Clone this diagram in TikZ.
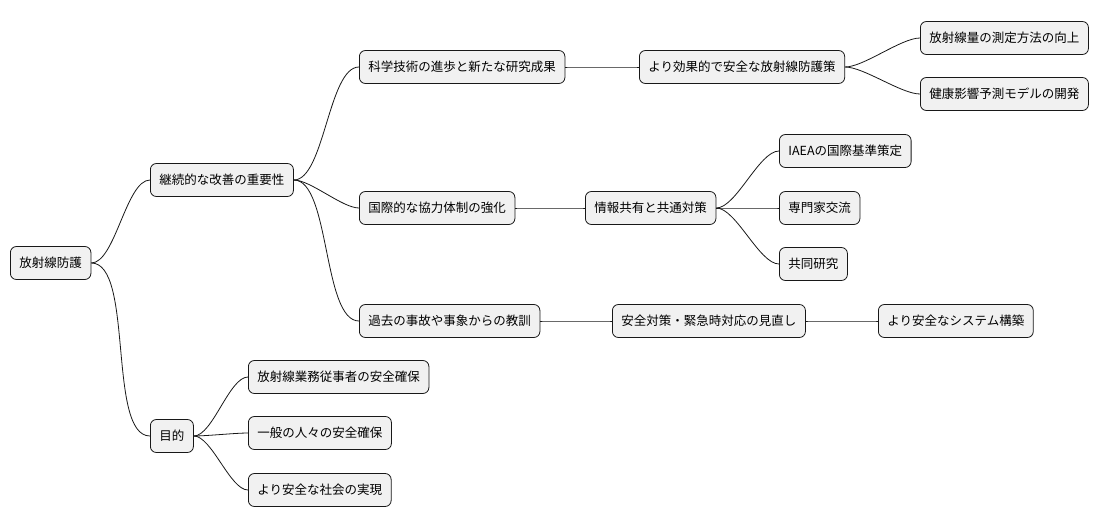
\documentclass[tikz,border=0pt]{standalone}
\usepackage{fontspec}
\setmainfont{Noto Sans CJK JP}
\usetikzlibrary{positioning}
\definecolor{boxfill}{HTML}{F1F1F1}
\definecolor{boxline}{HTML}{181818}
\tikzset{
  topic/.style={draw=boxline, fill=boxfill, rounded corners=6pt, line width=0.8pt,
    anchor=west, minimum height=33pt, inner xsep=9pt,
    font=\fontsize{12.5}{14}\selectfont},
  branch/.style={draw=boxline, line width=0.8pt},
}
\newcommand{\link}[2]{\draw[branch] (#1.east) to[out=0,in=180,looseness=0.6] (#2.west);}
\begin{document}
\begin{tikzpicture}[x=1pt,y=-1pt]
  \useasboundingbox (0,0) rectangle (1118,527);
  \node[topic] (root)    at (10,263)  {放射線防護};
  \node[topic] (kaizen)  at (150,180) {継続的な改善の重要性};
  \node[topic] (mokuteki) at (150,436) {目的};
  \node[topic] (kagaku)  at (359,67)  {科学技術の進歩と新たな研究成果};
  \node[topic] (kokusai) at (359,208) {国際的な協力体制の強化};
  \node[topic] (kyokun)  at (359,321) {過去の事故や事象からの教訓};
  \node[topic] (koka)    at (639,67)  {より効果的で安全な放射線防護策};
  \node[topic] (sokutei) at (920,38)  {放射線量の測定方法の向上};
  \node[topic] (kenko)   at (920,94)  {健康影響予測モデルの開発};
  \node[topic] (joho)    at (585,208) {情報共有と共通対策};
  \node[topic] (iaea)    at (779,151) {IAEAの国際基準策定};
  \node[topic] (senmon)  at (779,208) {専門家交流};
  \node[topic] (kyodo)   at (779,264) {共同研究};
  \node[topic] (minaoshi) at (612,321) {安全対策・緊急時対応の見直し};
  \node[topic] (system)  at (878,321) {より安全なシステム構築};
  \node[topic] (jujisha) at (248,377) {放射線業務従事者の安全確保};
  \node[topic] (ippan)   at (248,433) {一般の人々の安全確保};
  \node[topic] (shakai)  at (248,490) {より安全な社会の実現};

  \link{root}{kaizen}
  \link{root}{mokuteki}
  \link{kaizen}{kagaku}
  \link{kaizen}{kokusai}
  \link{kaizen}{kyokun}
  \link{kagaku}{koka}
  \link{koka}{sokutei}
  \link{koka}{kenko}
  \link{kokusai}{joho}
  \link{joho}{iaea}
  \link{joho}{senmon}
  \link{joho}{kyodo}
  \link{kyokun}{minaoshi}
  \link{minaoshi}{system}
  \link{mokuteki}{jujisha}
  \link{mokuteki}{ippan}
  \link{mokuteki}{shakai}
\end{tikzpicture}
\end{document}
